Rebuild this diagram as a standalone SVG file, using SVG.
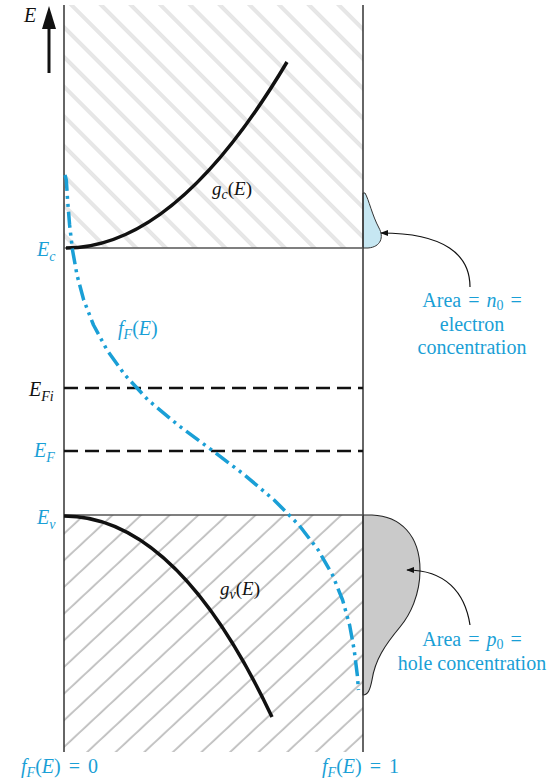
<svg xmlns="http://www.w3.org/2000/svg" width="557" height="780" viewBox="0 0 557 780">
<style>
.t{font-family:"Liberation Serif","Times New Roman",serif;font-size:19px}
.s20{font-size:20px}
.sub{font-size:14px}
.i{font-style:italic}
.b{fill:#1a9fd6}
.k{fill:#111}
.frame{stroke:#333;stroke-width:1.5;fill:none}
.lvl{stroke:#555;stroke-width:1.5;fill:none}
.dash{stroke:#111;stroke-width:2.5;stroke-dasharray:14 7;fill:none}
</style>
<defs>
<pattern id="hatchUp" patternUnits="userSpaceOnUse" width="21" height="21" patternTransform="rotate(-45)">
<line x1="5" y1="0" x2="5" y2="21" stroke="#d4d4d4" stroke-width="3.2"/>
<line x1="5" y1="0" x2="5" y2="21" stroke="#fafafa" stroke-width="1"/>
</pattern>
<pattern id="hatchDn" patternUnits="userSpaceOnUse" width="19.5" height="19.5" patternTransform="rotate(47)">
<line x1="5" y1="0" x2="5" y2="19.5" stroke="#bdbdbd" stroke-width="1.8"/>
</pattern>
<marker id="ah" viewBox="0 0 10 10" refX="9" refY="5" markerWidth="8" markerHeight="8" markerUnits="userSpaceOnUse" orient="auto">
<path d="M0,1 L10,5 L0,9 z" fill="#111"/>
</marker>
</defs>
<g id="bands">
<rect x="64" y="5" width="299" height="243" fill="url(#hatchUp)"/>
<rect x="64" y="515" width="299" height="237" fill="url(#hatchDn)"/>
</g>
<g id="electron-area">
<path d="M363,193 L365,193 C369,200 372,215 379,228 C384,237 381,247 368,248 L363,248 Z" fill="#c6e7f2" stroke="#333" stroke-width="1"/>
</g>
<g id="hole-area">
<path d="M363,515 L372,515 C400,516 420,535 420,570 C420,595 410,615 400,627 C385,645 375,660 372,680 C370,690 368,695 363,695 Z" fill="#cacaca" stroke="#222" stroke-width="1.1"/>
</g>
<g id="frame">
<line class="frame" x1="64" y1="5" x2="64" y2="752"/>
<line class="frame" x1="363" y1="5" x2="363" y2="752"/>
<line class="lvl" x1="64" y1="248" x2="363" y2="248"/>
<line class="lvl" x1="64" y1="515" x2="363" y2="515"/>
<line class="dash" x1="64" y1="388" x2="363" y2="388"/>
<line class="dash" x1="64" y1="451" x2="363" y2="451"/>
</g>
<g id="energy-axis">
<line x1="49" y1="73" x2="49" y2="24" stroke="#111" stroke-width="3"/>
<path d="M49,6 L56,29 L42,29 Z" fill="#111"/>
<text class="t s20 i k" x="24" y="22">E</text>
</g>
<g id="gc">
<path d="M66,248 Q176.5,248 287,62" fill="none" stroke="#111" stroke-width="3.5"/>
<text class="t k" x="212" y="195"><tspan class="i">g</tspan><tspan class="i sub" dy="4">c</tspan><tspan dy="-4">(</tspan><tspan class="i">E</tspan>)</text>
</g>
<g id="gv">
<path d="M64,516 C137,516 207,579 272,717" fill="none" stroke="#111" stroke-width="3.5"/>
<text class="t k" x="220" y="595"><tspan class="i">g</tspan><tspan class="i sub" dy="4">v</tspan><tspan dy="-4">(</tspan><tspan class="i">E</tspan>)</text>
</g>
<g id="fermi">
<polyline points="65,175 66.3,180 67.6,200 69.6,225 72.5,250 77,275 83.7,300 93.5,325 107,350 125,375 148,400 178,425 213,451 244.6,475 274.1,500 298.9,525 318.2,550 332.5,575 342.6,600 349.6,625 354.2,650 357.3,675 358.5,690" fill="none" stroke="#1a9fd6" stroke-width="3.5" stroke-linejoin="round" stroke-dasharray="16 5 3 5 3 5"/>
<text class="t s20 b" x="118" y="335"><tspan class="i">f</tspan><tspan class="i sub" dy="4">F</tspan><tspan dy="-4">(</tspan><tspan class="i">E</tspan>)</text>
</g>
<g id="level-labels">
<text class="t s20 i b" x="37" y="256">E<tspan class="sub" dy="5">c</tspan></text>
<text class="t s20 i k" x="29" y="396">E<tspan class="sub" dy="5">Fi</tspan></text>
<text class="t s20 i b" x="34" y="457">E<tspan class="sub" dy="5">F</tspan></text>
<text class="t s20 i b" x="37" y="524">E<tspan class="sub" dy="5">v</tspan></text>
</g>
<g id="connectors">
<path d="M470,287 C470,255 445,233 381,233" fill="none" stroke="#111" stroke-width="1.2" marker-end="url(#ah)"/>
<path d="M470,625 C465,592 445,570 407,570" fill="none" stroke="#111" stroke-width="1.2" marker-end="url(#ah)"/>
</g>
<g id="n0-label">
<text class="t s20 b" x="472" y="307" text-anchor="middle" word-spacing="2">Area = <tspan class="i">n</tspan><tspan class="sub" dy="3">0</tspan><tspan dy="-3"> =</tspan></text>
<text class="t s20 b" x="472" y="331" text-anchor="middle">electron</text>
<text class="t s20 b" x="472" y="354" text-anchor="middle">concentration</text>
</g>
<g id="p0-label">
<text class="t s20 b" x="472" y="646" text-anchor="middle" word-spacing="2">Area = <tspan class="i">p</tspan><tspan class="sub" dy="3">0</tspan><tspan dy="-3"> =</tspan></text>
<text class="t s20 b" x="472" y="670" text-anchor="middle">hole concentration</text>
</g>
<g id="bottom-labels">
<text class="t s20 b" x="21" y="773" word-spacing="3"><tspan class="i">f</tspan><tspan class="i sub" dy="4">F</tspan><tspan dy="-4">(</tspan><tspan class="i">E</tspan>) = 0</text>
<text class="t s20 b" x="322" y="773" word-spacing="3"><tspan class="i">f</tspan><tspan class="i sub" dy="4">F</tspan><tspan dy="-4">(</tspan><tspan class="i">E</tspan>) = 1</text>
</g>
</svg>
